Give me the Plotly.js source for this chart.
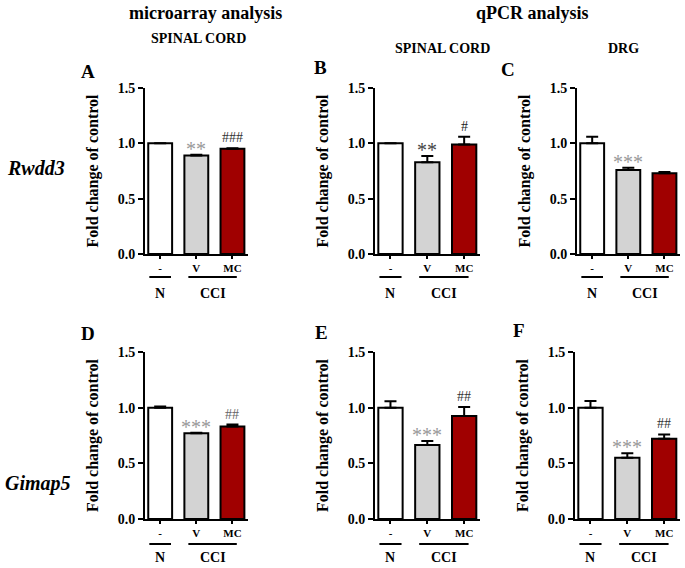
<!DOCTYPE html>
<html>
<head>
<meta charset="utf-8">
<script src="https://cdn.plot.ly/plotly-3.0.1.min.js"></script>
<style>html,body{margin:0;padding:0;background:#fff;}#chart{width:685px;height:568px;}</style>
</head>
<body>
<div id="chart"></div>
<script>
// ---- data ----
const groupLabels = ["-", "V", "MC"];
const groupPos = [0, 1, 2];
const barColors = ["#ffffff", "#d3d3d3", "#a00000"];

// Rwdd3
const rwdd3MicroSC = [1.00, 0.89, 0.95];
const rwdd3MicroSCErr = [0.0, 0.006, 0.006];
const rwdd3QpcrSC = [1.00, 0.83, 0.99];
const rwdd3QpcrSCErr = [0.0, 0.055, 0.07];
const rwdd3QpcrDRG = [1.00, 0.76, 0.73];
const rwdd3QpcrDRGErr = [0.06, 0.02, 0.01];
// Gimap5
const gimap5MicroSC = [1.00, 0.77, 0.83];
const gimap5MicroSCErr = [0.01, 0.005, 0.018];
const gimap5QpcrSC = [1.00, 0.665, 0.925];
const gimap5QpcrSCErr = [0.057, 0.035, 0.08];
const gimap5QpcrDRG = [1.00, 0.55, 0.72];
const gimap5QpcrDRGErr = [0.06, 0.04, 0.04];

// significance marks
const sigA = ["", "**", "###"];
const sigB = ["", "**", "#"];
const sigC = ["", "***", ""];
const sigD = ["", "***", "##"];
const sigE = ["", "***", "##"];
const sigF = ["", "***", "##"];

const panelLetters = ["A", "B", "C", "D", "E", "F"];
const yTitle = "Fold change of control";
const rowGenes = ["Rwdd3", "Gimap5"];
const colHeaders = ["microarray analysis", "qPCR analysis"];
const tissueLabels = ["SPINAL CORD", "SPINAL CORD", "DRG"];
const groupN = "N";
const groupCCI = "CCI";

// ---- layout helpers ----
const W = 685, H = 568;
const FONT = "Liberation Serif";
const px = v => v / W;
const py = v => 1 - v / H;

const panels = [
  {vals: rwdd3MicroSC, err: rwdd3MicroSCErr, sig: sigA, x0: 145, x1: 248, row: 0, sigColors: ["#999", "#333"]},
  {vals: rwdd3QpcrSC, err: rwdd3QpcrSCErr, sig: sigB, x0: 375, x1: 480, row: 0, sigColors: ["#444", "#222"]},
  {vals: rwdd3QpcrDRG, err: rwdd3QpcrDRGErr, sig: sigC, x0: 577, x1: 680, row: 0, sigColors: ["#999", "#333"]},
  {vals: gimap5MicroSC, err: gimap5MicroSCErr, sig: sigD, x0: 145, x1: 248, row: 1, sigColors: ["#999", "#666"]},
  {vals: gimap5QpcrSC, err: gimap5QpcrSCErr, sig: sigE, x0: 375, x1: 480, row: 1, sigColors: ["#999", "#333"]},
  {vals: gimap5QpcrDRG, err: gimap5QpcrDRGErr, sig: sigF, x0: 575, x1: 680, row: 1, sigColors: ["#999", "#333"]}
];
const rowY = [{top: 88, bot: 254, line: 277, lab: 293}, {top: 352, bot: 519, line: 544, lab: 557}];
const letterPos = [[88, 71], [320, 68], [508, 70], [88, 333], [321, 332], [519, 331]];

const data = [];
const layout = {
  width: W, height: H,
  margin: {l: 0, r: 0, t: 0, b: 0},
  paper_bgcolor: "#fff", plot_bgcolor: "#fff",
  showlegend: false,
  font: {family: FONT, color: "#000"},
  annotations: [], shapes: []
};

function addText(x, y, text, size, opts) {
  layout.annotations.push(Object.assign({
    xref: "paper", yref: "paper", x: x, y: y, showarrow: false,
    xanchor: "center", yanchor: "middle", text: text,
    font: {family: FONT, size: size, color: "#000", weight: "bold"}
  }, opts || {}));
}

panels.forEach((p, i) => {
  const n = i + 1;
  const xa = n === 1 ? "x" : "x" + n;
  const ya = n === 1 ? "y" : "y" + n;
  const r = rowY[p.row];
  data.push({
    type: "bar", x: groupPos, y: p.vals, xaxis: xa, yaxis: ya, width: 0.66,
    marker: {color: barColors, line: {color: "#000", width: 2}},
    error_y: {type: "data", symmetric: false, array: p.err, arrayminus: [0, 0, 0],
              color: "#000", thickness: 2, width: 6},
    hoverinfo: "skip"
  });
  const xKey = n === 1 ? "xaxis" : "xaxis" + n;
  const yKey = n === 1 ? "yaxis" : "yaxis" + n;
  layout[xKey] = {
    domain: [px(p.x0), px(p.x1)], anchor: ya, range: [-0.42, 2.43],
    tickvals: groupPos, ticktext: groupLabels, ticks: "outside", ticklen: 3, tickwidth: 2,
    tickcolor: "#000", showline: true, linecolor: "#000", linewidth: 2,
    showgrid: false, zeroline: false, fixedrange: true,
    tickfont: {family: FONT, size: 11, color: "#000", weight: "bold"}
  };
  layout[yKey] = {
    domain: [py(r.bot), py(r.top)], anchor: xa, range: [0, 1.5],
    tickvals: [0, 0.5, 1, 1.5], tickformat: ".1f", ticks: "outside", ticklen: 5, tickwidth: 2,
    tickcolor: "#000", showline: true, linecolor: "#000", linewidth: 2,
    showgrid: false, zeroline: false, fixedrange: true,
    tickfont: {family: FONT, size: 14, color: "#000", weight: "bold"},
    title: {text: yTitle, standoff: 15, font: {family: FONT, size: 16, color: "#000", weight: "bold"}}
  };
  // significance marks
  p.sig.forEach((s, k) => {
    if (!s) return;
    const isStar = s.indexOf("*") >= 0;
    layout.annotations.push({
      xref: xa, yref: ya, x: groupPos[k], y: p.vals[k] + p.err[k],
      yanchor: "bottom", xanchor: "center", showarrow: false, yshift: isStar ? -7 : 1,
      text: s,
      font: {family: FONT, size: isStar ? 20 : 14, color: isStar ? p.sigColors[0] : p.sigColors[1]}
    });
  });
  // group lines and labels
  layout.shapes.push({type: "line", xref: xa, yref: "paper", x0: -0.3, x1: 0.3, y0: py(r.line), y1: py(r.line), line: {color: "#000", width: 2}});
  layout.shapes.push({type: "line", xref: xa, yref: "paper", x0: 0.78, x1: 2.12, y0: py(r.line), y1: py(r.line), line: {color: "#000", width: 2}});
  addText(0, py(r.lab), groupN, 14, {xref: xa});
  addText(1.45, py(r.lab), groupCCI, 14, {xref: xa});
  // panel letter
  addText(px(letterPos[i][0]), py(letterPos[i][1]), panelLetters[i], 19);
});

// headers
addText(px(205), py(13), colHeaders[0], 18);
addText(px(532), py(13), colHeaders[1], 18);
const tissuePos = [[198, 39], [442, 49], [623, 49]];
tissueLabels.forEach((t, k) => addText(px(tissuePos[k][0]), py(tissuePos[k][1]), t, 14));
// row gene labels
const genePos = [[36, 168], [38, 483]];
rowGenes.forEach((g, k) => addText(px(genePos[k][0]), py(genePos[k][1]), "<i>" + g + "</i>", 20));

Plotly.newPlot("chart", data, layout, {displayModeBar: false, staticPlot: true});
</script>
</body>
</html>
